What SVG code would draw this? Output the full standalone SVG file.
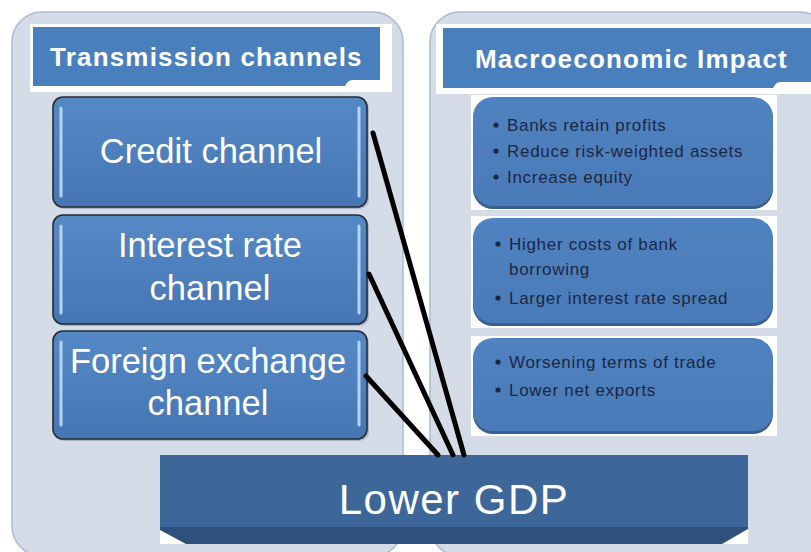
<svg xmlns="http://www.w3.org/2000/svg" width="811" height="552" viewBox="0 0 811 552">
  <defs>
    <linearGradient id="chanFill" x1="0" y1="0" x2="0" y2="1">
      <stop offset="0" stop-color="#5589c6"/>
      <stop offset="1" stop-color="#4676b3"/>
    </linearGradient>
    <linearGradient id="impactFill" x1="0" y1="0" x2="0" y2="1">
      <stop offset="0" stop-color="#4f82c0"/>
      <stop offset="1" stop-color="#4a7bb8"/>
    </linearGradient>
  </defs>
  <style>
    .panel { fill: #d4dce8; stroke: #a9bad1; stroke-width: 1.5; }
    .hdr-back { fill: #ffffff; }
    .hdr { fill: #4a7fbd; }
    .hdr-text { font-family: "Liberation Sans", Arial, sans-serif; font-weight: bold; font-size: 26px; fill: #ffffff; letter-spacing: 1.2px; }
    .chan { fill: url(#chanFill); stroke: #262b33; stroke-width: 1.6; }
    .chan-shadow { fill: #8a97aa; opacity: 0.6; }
    .strip { stroke: #b5d3f2; stroke-width: 3; stroke-linecap: round; }
    .chan-text { font-family: "Liberation Sans", Arial, sans-serif; font-size: 34.5px; fill: #ffffff; text-anchor: middle; }
    .imp-back { fill: #ffffff; }
    .imp-shadow { fill: #3a5f8e; }
    .imp { fill: url(#impactFill); }
    .imp-text { font-family: "Liberation Sans", Arial, sans-serif; font-size: 17px; fill: #1c2744; letter-spacing: 0.7px; }
    .bullet { fill: #1c2744; }
    .link { stroke: #000000; stroke-width: 5; stroke-linecap: round; fill: none; }
    .gdp-top { fill: #3e6799; }
    .gdp-bevel { fill: #2f507b; }
    .gdp-text { font-family: "Liberation Sans", Arial, sans-serif; font-size: 42px; fill: #ffffff; text-anchor: middle; letter-spacing: 1.5px; }
  </style>

  <rect x="0" y="0" width="811" height="552" fill="#ffffff"/>

  <!-- left panel: transmission channels -->
  <g id="panel-channels">
    <rect class="panel" x="12" y="12" width="391" height="544" rx="30"/>
    <rect class="hdr-back" x="30" y="24" width="362" height="68"/>
    <path class="hdr" d="M33 27 H380 V80 H352 Q348 80 345 86 H33 Z"/>
    <text class="hdr-text" x="50" y="66">Transmission channels</text>
  </g>

  <!-- right panel: macroeconomic impact -->
  <g id="panel-impact">
    <rect class="panel" x="430" y="12" width="400" height="544" rx="30"/>
    <rect class="hdr-back" x="436" y="24" width="380" height="70"/>
    <path class="hdr" d="M443 28 H811 V82 H780 Q776 82 773 88 H443 Z"/>
    <text class="hdr-text" x="475" y="68">Macroeconomic Impact</text>
  </g>

  <!-- channel nodes -->
  <g id="node-credit">
    <rect class="chan-shadow" x="54" y="99" width="315" height="110" rx="10"/>
    <rect class="chan" x="53" y="97" width="314" height="110" rx="10"/>
    <line class="strip" x1="61" y1="108" x2="61" y2="196"/>
    <line class="strip" x1="359" y1="108" x2="359" y2="196"/>
    <text class="chan-text" x="211" y="163">Credit channel</text>
  </g>

  <g id="node-interest">
    <rect class="chan-shadow" x="54" y="217" width="315" height="109" rx="10"/>
    <rect class="chan" x="53" y="215" width="314" height="109" rx="10"/>
    <line class="strip" x1="61" y1="226" x2="61" y2="313"/>
    <line class="strip" x1="359" y1="226" x2="359" y2="313"/>
    <text class="chan-text" x="210" y="257">Interest rate</text>
    <text class="chan-text" x="210" y="300">channel</text>
  </g>

  <g id="node-fx">
    <rect class="chan-shadow" x="54" y="333" width="315" height="108" rx="10"/>
    <rect class="chan" x="53" y="331" width="314" height="108" rx="10"/>
    <line class="strip" x1="61" y1="342" x2="61" y2="425"/>
    <line class="strip" x1="359" y1="342" x2="359" y2="425"/>
    <text class="chan-text" x="208" y="373">Foreign exchange</text>
    <text class="chan-text" x="208" y="415">channel</text>
  </g>

  <!-- impact nodes -->
  <g id="node-bank-capital">
    <rect class="imp-back" x="471" y="95" width="306" height="115"/>
    <rect class="imp-shadow" x="473" y="99" width="300" height="110" rx="20"/>
    <rect class="imp" x="473" y="97" width="300" height="109" rx="20"/>
    <circle class="bullet" cx="496" cy="125" r="2.6"/>
    <text class="imp-text" x="507" y="131">Banks retain profits</text>
    <circle class="bullet" cx="496" cy="151" r="2.6"/>
    <text class="imp-text" x="507" y="157">Reduce risk-weighted assets</text>
    <circle class="bullet" cx="496" cy="177" r="2.6"/>
    <text class="imp-text" x="507" y="183">Increase equity</text>
  </g>

  <g id="node-borrowing">
    <rect class="imp-back" x="471" y="216" width="306" height="112"/>
    <rect class="imp-shadow" x="473" y="220" width="300" height="106" rx="20"/>
    <rect class="imp" x="473" y="218" width="300" height="105" rx="20"/>
    <circle class="bullet" cx="498" cy="244" r="2.6"/>
    <text class="imp-text" x="509" y="250">Higher costs of bank</text>
    <text class="imp-text" x="509" y="275">borrowing</text>
    <circle class="bullet" cx="498" cy="298" r="2.6"/>
    <text class="imp-text" x="509" y="304">Larger interest rate spread</text>
  </g>

  <g id="node-trade">
    <rect class="imp-back" x="471" y="336" width="306" height="100"/>
    <rect class="imp-shadow" x="473" y="340" width="300" height="94" rx="20"/>
    <rect class="imp" x="473" y="338" width="300" height="93" rx="20"/>
    <circle class="bullet" cx="498" cy="362" r="2.6"/>
    <text class="imp-text" x="509" y="368">Worsening terms of trade</text>
    <circle class="bullet" cx="498" cy="390" r="2.6"/>
    <text class="imp-text" x="509" y="396">Lower net exports</text>
  </g>

  <!-- outcome node -->
  <g id="node-gdp">
    <rect class="gdp-top" x="160" y="455" width="588" height="73"/>
    <rect class="gdp-bevel" x="160" y="527" width="588" height="17"/>
    <polygon fill="#ffffff" points="160,530 160,544 186,544"/>
    <polygon fill="#ffffff" points="748,529 748,544 722,544"/>
    <text class="gdp-text" x="454" y="514">Lower GDP</text>
  </g>

  <!-- connectors -->
  <g id="connectors">
    <line class="link" x1="373" y1="133" x2="464" y2="455"/>
    <line class="link" x1="369" y1="274" x2="453" y2="455"/>
    <line class="link" x1="366" y1="376" x2="438" y2="455"/>
  </g>
</svg>
